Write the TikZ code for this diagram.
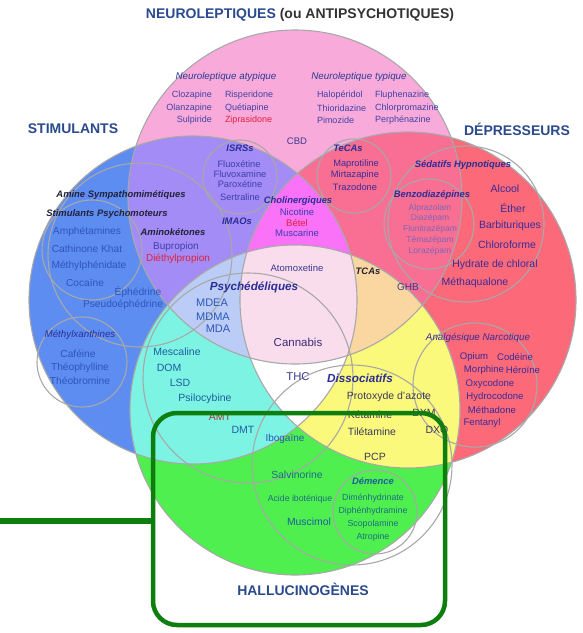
\documentclass[tikz,border=0pt]{standalone}
\usepackage{fontspec}
\setmainfont{Liberation Sans}
\definecolor{pinkC}{HTML}{F8AADB}
\definecolor{blueC}{HTML}{5E8DF2}
\definecolor{redC}{HTML}{FC6A7A}
\definecolor{greenC}{HTML}{4FEF4F}
\definecolor{purpleC}{HTML}{A38CF5}
\definecolor{pinkredC}{HTML}{F86F93}
\definecolor{magentaC}{HTML}{F972F7}
\definecolor{lpinkC}{HTML}{F9DDEC}
\definecolor{lblueC}{HTML}{BBCDF7}
\definecolor{peachC}{HTML}{FAD7A0}
\definecolor{cyanC}{HTML}{7DF3E3}
\definecolor{yellowC}{HTML}{FBF97C}
\definecolor{ringC}{HTML}{A8A8A8}
\definecolor{hgreen}{HTML}{0E7E0E}
\definecolor{titleC}{HTML}{2B4A8E}
\definecolor{grayT}{HTML}{333333}
\definecolor{nlSub}{HTML}{2E3A92}
\definecolor{nlItem}{HTML}{4141A3}
\definecolor{redT}{HTML}{E0203C}
\definecolor{darkredT}{HTML}{A83A2E}
\definecolor{blueItem}{HTML}{2C56B8}
\definecolor{darkLab}{HTML}{22223A}
\definecolor{purpItem}{HTML}{3E3EB0}
\definecolor{labBlue}{HTML}{2A2E96}
\definecolor{redItem}{HTML}{3A2A96}
\definecolor{benzoItem}{HTML}{7E64B8}
\definecolor{cyanItem}{HTML}{1E5E9E}
\definecolor{greenItem}{HTML}{1C6E80}
\definecolor{dissItem}{HTML}{3A3A5C}
\definecolor{centerItem}{HTML}{3A3A90}
\definecolor{cannabC}{HTML}{3C2A78}
\begin{document}
\begin{tikzpicture}[x=1pt,y=-1pt,
  every node/.style={inner sep=0pt,outer sep=0pt},
  ring/.style={draw=ringC,line width=1.1pt},
  ttl/.style={font=\fontsize{14}{16}\selectfont\bfseries,text=titleC},
  lab/.style={font=\fontsize{9.4}{11}\selectfont\bfseries\itshape,text=labBlue},
  labBig/.style={font=\fontsize{11.7}{13}\selectfont\bfseries\itshape,text=labBlue},
  labIt/.style={font=\fontsize{9.8}{11}\selectfont\itshape,text=nlSub},
  sz/.style={font=\fontsize{#1}{#1}\selectfont},
]
\useasboundingbox (0,0) rectangle (583,633);
\fill[white] (0,0) rectangle (583,633);

% base circles
\fill[pinkC] (295,197) circle[radius=167pt];
\fill[blueC] (193,300) circle[radius=164pt];
\fill[redC] (408,300) circle[radius=168pt];
\fill[greenC] (295,410) circle[radius=165pt];
% two-way
\begin{scope}\clip (295,197) circle[radius=167pt];\fill[purpleC] (193,300) circle[radius=164pt];\end{scope}
\begin{scope}\clip (295,197) circle[radius=167pt];\fill[pinkredC] (408,300) circle[radius=168pt];\end{scope}
\begin{scope}\clip (193,300) circle[radius=164pt];\fill[cyanC] (295,410) circle[radius=165pt];\end{scope}
\begin{scope}\clip (408,300) circle[radius=168pt];\fill[yellowC] (295,410) circle[radius=165pt];\end{scope}
\begin{scope}\clip (193,300) circle[radius=164pt];\fill[white] (408,300) circle[radius=168pt];\end{scope}
% three-way
\begin{scope}\clip (295,197) circle[radius=167pt];\clip (193,300) circle[radius=164pt];\fill[magentaC] (408,300) circle[radius=168pt];\end{scope}
\begin{scope}\clip (295,197) circle[radius=167pt];\clip (193,300) circle[radius=164pt];\fill[lblueC] (295,410) circle[radius=165pt];\end{scope}
\begin{scope}\clip (295,197) circle[radius=167pt];\clip (408,300) circle[radius=168pt];\fill[peachC] (295,410) circle[radius=165pt];\end{scope}
% four-way
\begin{scope}\clip (295,197) circle[radius=167pt];\clip (193,300) circle[radius=164pt];\clip (408,300) circle[radius=168pt];\fill[lpinkC] (295,410) circle[radius=165pt];\end{scope}

% outlines of main circles
\draw[ring] (295,197) circle[radius=167pt];
\draw[ring] (193,300) circle[radius=164pt];
\draw[ring] (408,300) circle[radius=168pt];
\draw[ring] (295,410) circle[radius=165pt];
% sub-group outlines
\draw[ring] (240,177) circle[radius=37pt];
\draw[ring] (354,176) circle[radius=37pt];
\draw[ring] (429,224) circle[radius=45pt];
\draw[ring] (466,224) circle[radius=78pt];
\draw[ring] (140,255) circle[radius=92pt];
\draw[ring] (92,250) circle[radius=50pt];
\draw[ring] (82,362) circle[radius=45pt];
\draw[ring] (248,378) circle[radius=105pt];
\draw[ring] (352,465) circle[radius=100pt];
\draw[ring] (375,512) circle[radius=42pt];
\draw[ring] (475,385) circle[radius=62pt];

% titles
\node[ttl] (tNeuro) at (300,15) {NEUROLEPTIQUES \textcolor{grayT}{(ou ANTIPSYCHOTIQUES)}};
\node[ttl] (tStim) at (73,129) {STIMULANTS};
\node[ttl] (tDep) at (517,129) {DÉPRESSEURS};
\node[ttl] (tHal) at (303,589) {HALLUCINOGÈNES};

% neuroleptiques
\node[labIt] (nAty) at (226,77) {Neuroleptique atypique};
\node[labIt] (nTyp) at (359,77) {Neuroleptique typique};
\begin{scope}[every node/.append style={sz=9,text=nlItem}]
\node[anchor=east] (clo) at (212,95) {Clozapine};
\node[anchor=east] (ola) at (212,108) {Olanzapine};
\node[anchor=east] (sul) at (212,120) {Sulpiride};
\node[anchor=west] (ris) at (225,95) {Risperidone};
\node[anchor=west] (que) at (225,108) {Quétiapine};
\node[anchor=west,text=redT] (zip) at (225,120) {Ziprasidone};
\node[anchor=west] (hal) at (317,95) {Halopéridol};
\node[anchor=west] (thi) at (317,108) {Thioridazine};
\node[anchor=west] (pim) at (317,120) {Pimozide};
\node[anchor=west] (flu) at (375,95) {Fluphenazine};
\node[anchor=west] (chl) at (375,108) {Chlorpromazine};
\node[anchor=west] (per) at (375,120) {Perphénazine};
\end{scope}
\node[sz=9.5,text=centerItem] (cbd) at (297,141) {CBD};

% ISRS / IMAO / Cholinergiques / TeCAs
\node[lab] (isrs) at (240,148) {ISRSs};
\begin{scope}[every node/.append style={sz=9.3,text=purpItem}]
\node (fluox) at (239,164) {Fluoxétine};
\node (fluvo) at (240,174) {Fluvoxamine};
\node (parox) at (240,184) {Paroxétine};
\node (sert) at (240,197) {Sertraline};
\end{scope}
\node[lab] (imao) at (237,221) {IMAOs};
\node[lab] (chol) at (298,201) {Cholinergiques};
\node[sz=9.5,text=purpItem] (nico) at (297,212) {Nicotine};
\node[sz=9.5,text=redT] (betel) at (297,223) {Bétel};
\node[sz=9.5,text=purpItem] (musca) at (297,233) {Muscarine};
\node[lab] (tecas) at (348,148) {TeCAs};
\begin{scope}[every node/.append style={sz=9.3,text=redItem}]
\node (mapro) at (356,164) {Maprotiline};
\node (mirta) at (355,175) {Mirtazapine};
\node (trazo) at (355,187) {Trazodone};
\end{scope}

% stimulants
\node[lab,text=darkLab] (amine) at (121,195) {Amine Sympathomimétiques};
\node[lab,text=darkLab] (stpsy) at (107,214) {Stimulants Psychomoteurs};
\begin{scope}[every node/.append style={sz=10.2,text=blueItem}]
\node (amph) at (87,232) {Amphétamines};
\node (cath) at (87,249) {Cathinone Khat};
\node (methy) at (89,266) {Méthylphénidate};
\node (coca) at (85,283) {Cocaïne};
\node (ephe) at (138,292) {Éphédrine};
\node (pseu) at (123,305) {Pseudoéphédrine};
\end{scope}
\node[lab,text=darkLab] (amino) at (173,232) {Aminokétones};
\node[sz=10,text=purpItem] (bupro) at (176,247) {Bupropion};
\node[sz=10,text=redT] (dieth) at (178,259) {Diéthylpropion};
\node[labIt,text=labBlue] (mxan) at (80,335) {Méthylxanthines};
\begin{scope}[every node/.append style={sz=10.2,text=blueItem}]
\node (cafe) at (78,354) {Caféine};
\node (theo) at (80,368) {Théophylline};
\node (theob) at (80,381) {Théobromine};
\end{scope}

% depresseurs
\node[lab] (sedat) at (463,165) {Sédatifs Hypnotiques};
\node[lab] (benzo) at (432,195) {Benzodiazépines};
\begin{scope}[every node/.append style={sz=8.5,text=benzoItem}]
\node (alpra) at (430,208) {Alprazolam};
\node (diaz) at (430,218) {Diazépam};
\node (fluni) at (430,229) {Flunitrazépam};
\node (tema) at (430,240) {Témazépam};
\node (lora) at (430,251) {Lorazépam};
\end{scope}
\begin{scope}[every node/.append style={sz=10.5,text=redItem}]
\node (alcool) at (505,189) {Alcool};
\node (ether) at (513,208) {Éther};
\node (barbi) at (510,226) {Barbituriques};
\node (chloro) at (507,245) {Chloroforme};
\node (hydra) at (495,265) {Hydrate de chloral};
\node (metha) at (475,283) {Méthaqualone};
\end{scope}
\node[labIt,text=redItem] (analg) at (478,338) {Analgésique Narcotique};
\begin{scope}[every node/.append style={sz=9.6,text=redItem}]
\node (opium) at (474,357) {Opium};
\node (codei) at (515,357) {Codéine};
\node (morph) at (484,370) {Morphine};
\node (heroi) at (523,370) {Héroïne};
\node (oxyc) at (490,384) {Oxycodone};
\node (hydroc) at (495,397) {Hydrocodone};
\node (methad) at (492,410) {Méthadone};
\node (fenta) at (482,423) {Fentanyl};
\end{scope}

% centre
\node[sz=9.5,text=centerItem] (atomo) at (297,268) {Atomoxetine};
\node[lab,text=darkLab] (tcas) at (368,271) {TCAs};
\node[sz=10,text=centerItem] (ghb) at (408,287) {GHB};
\node[labBig] (psyche) at (254,287) {Psychédéliques};
\begin{scope}[every node/.append style={sz=11,text=blueItem}]
\node (mdea) at (212,303) {MDEA};
\node (mdma) at (213,317) {MDMA};
\node (mda) at (218,329) {MDA};
\end{scope}
\node[sz=11.5,text=cannabC] (canna) at (298,342) {Cannabis};
\node[sz=11.3,text=centerItem] (thc) at (298,377) {THC};

% cyan
\begin{scope}[every node/.append style={sz=10.5,text=cyanItem}]
\node (mesca) at (177,352) {Mescaline};
\node (dom) at (169,368) {DOM};
\node (lsd) at (180,383) {LSD};
\node (psilo) at (205,399) {Psilocybine};
\node[text=darkredT] (amt) at (220,417) {AMT};
\node (dmt) at (243,430) {DMT};
\end{scope}
\node[sz=10,text=blueItem] (iboga) at (285,439) {Ibogaïne};

% dissociatifs
\node[labBig] (disso) at (360,378) {Dissociatifs};
\begin{scope}[every node/.append style={sz=10.5,text=dissItem}]
\node (proto) at (389,397) {Protoxyde d'azote};
\node (keta) at (370,415) {Kétamine};
\node (dxm) at (424,413) {DXM};
\node (dxo) at (437,430) {DXO};
\node (tilet) at (372,432) {Tilétamine};
\node (pcp) at (375,457) {PCP};
\end{scope}
\node[sz=10.4,text=greenItem] (salvi) at (297,475) {Salvinorine};
\node[sz=8.7,text=greenItem] (acide) at (300,499) {Acide iboténique};
\node[sz=10.4,text=cyanItem] (musci) at (309,522) {Muscimol};
\node[lab,text=cyanItem] (demen) at (373,481) {Démence};
\begin{scope}[every node/.append style={sz=8.8,text=greenItem}]
\node (dimen) at (373,498) {Diménhydrinate};
\node (diphe) at (373,511) {Diphénhydramine};
\node (scopo) at (373,524) {Scopolamine};
\node (atrop) at (373,537) {Atropine};
\end{scope}

% highlight frame
\node[draw=hgreen,line width=4.5pt,rounded corners=24pt,minimum width=292pt,minimum height=212pt] (hbox) at (299,519) {};
\coordinate (lstart) at (0,521);
\draw[hgreen,line width=6pt] (lstart) -- (lstart -| hbox.west);
\end{tikzpicture}
\end{document}
